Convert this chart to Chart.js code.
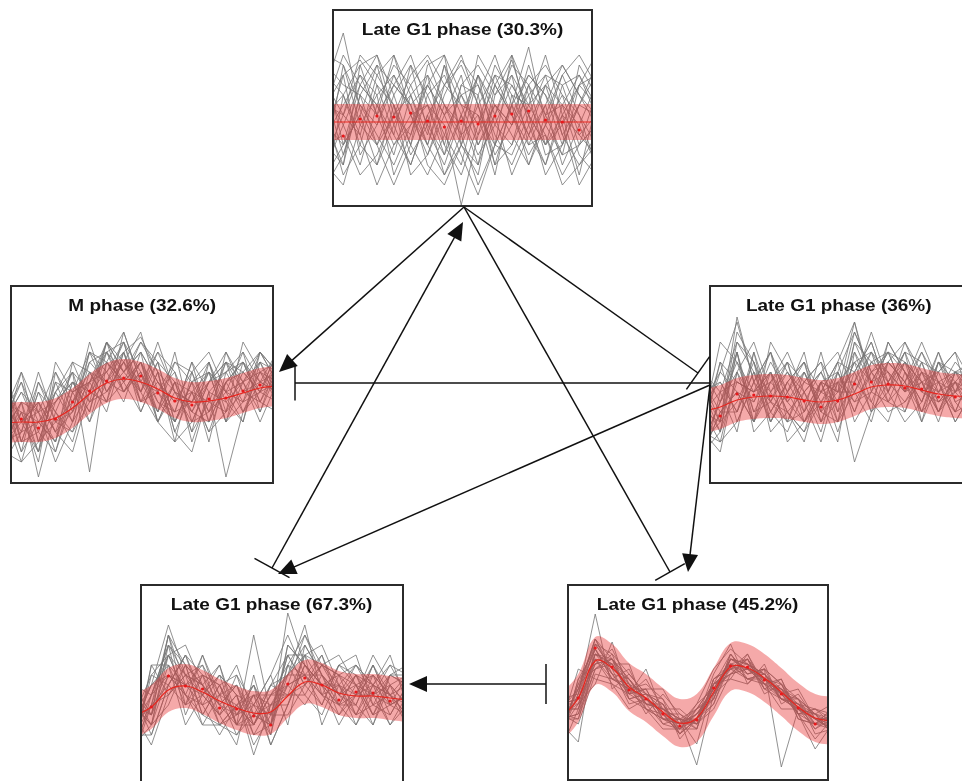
<!DOCTYPE html>
<html lang="en">
<head>
<meta charset="UTF-8">
<title>Cell cycle phase clusters</title>
<script src="https://cdn.jsdelivr.net/npm/chart.js"></script>
<style>
  body {
    margin: 0;
    width: 962px;
    height: 781px;
    overflow: hidden;
    background: #fff;
    position: relative;
    font-family: "Liberation Sans", Arial, sans-serif;
  }
  .panel {
    position: absolute;
    box-sizing: border-box;
    border: 2px solid #2b2b2b;
    background: #fff;
    overflow: hidden;
  }
  .panel canvas { position: absolute; left: 0; top: 0; }
  .ttl {
    position: absolute;
    left: 0; right: 0; top: 10px;
    text-align: center;
    font-weight: bold;
    font-size: 16.5px;
    line-height: 16px;
    color: #111;
    white-space: nowrap;
  }
  .ttl span { display: inline-block; transform: scaleX(1.15); }
  #links { position: absolute; left: 0; top: 0; }
</style>
</head>
<body>
  <div class="panel" id="pA" style="left:332px;top:9px;width:261px;height:198px"><canvas></canvas><div class="ttl"><span>Late G1 phase (30.3%)</span></div></div>
  <div class="panel" id="pB" style="left:10px;top:285px;width:264px;height:199px"><canvas></canvas><div class="ttl"><span>M phase (32.6%)</span></div></div>
  <div class="panel" id="pC" style="left:709px;top:285px;width:260px;height:199px"><canvas></canvas><div class="ttl"><span>Late G1 phase (36%)</span></div></div>
  <div class="panel" id="pD" style="left:140px;top:584px;width:264px;height:203px"><canvas></canvas><div class="ttl"><span>Late G1 phase (67.3%)</span></div></div>
  <div class="panel" id="pE" style="left:567px;top:584px;width:262px;height:197px"><canvas></canvas><div class="ttl"><span>Late G1 phase (45.2%)</span></div></div>
  <svg id="links" width="962" height="781"></svg>

<script>
// time points (profile samples), mean dots only at the inner ones
const timePoints = [0, 1, 2, 3, 4, 5, 6, 7, 8, 9, 10, 11, 12, 13, 14, 15, 16];
const meanPoints = [1, 2, 3, 4, 5, 6, 7, 8, 9, 10, 11, 12, 13, 14, 15];

// --- Late G1 phase (30.3%) ---
const grayA = [
  [120,172,95,60,110,140,75,40,90,130,60,100,158,80,50,120,100],
  [60,40,140,150,90,70,120,150,60,30,110,145,90,60,120,70,90],
  [100,130,145,120,70,40,90,120,140,100,50,80,110,130,70,40,60],
  [40,20,80,110,130,90,60,30,70,150,120,90,60,100,140,110,80],
  [130,110,60,40,80,120,145,100,60,40,90,130,100,70,30,60,110],
  [80,60,120,150,110,60,30,70,110,80,140,110,70,40,90,120,130],
  [20,50,100,70,40,80,120,90,50,10,60,100,130,110,80,20,50],
  [150,140,100,80,130,100,60,110,145,120,70,40,80,120,100,130,90],
  [90,30,60,120,100,50,80,140,100,60,100,70,40,90,130,90,40],
  [70,100,130,90,50,110,130,60,30,80,120,150,110,50,60,100,140],
  [110,80,40,100,140,120,80,50,120,110,40,60,120,140,110,60,80],
  [50,90,150,130,100,30,50,100,80,130,90,30,70,100,40,80,120],
  [140,120,110,60,20,60,110,130,90,50,80,120,90,30,60,140,110],
  [30,60,90,140,120,100,40,20,60,100,130,90,50,80,110,90,60],
  [100,150,120,100,60,90,100,80,0,70,100,80,140,90,100,50,30],
  [60,70,30,50,90,130,150,120,100,90,30,110,100,120,70,100,90],
  [120,90,70,20,60,80,100,60,120,140,110,130,60,70,20,40,70],
  [80,40,110,90,150,110,70,140,70,20,60,50,90,130,120,130,100],
  [90,110,70,130,150,90,50,90,130,60,90,140,120,60,90,70,50],
  [40,80,120,100,70,140,110,70,40,110,150,100,40,80,130,150,120],
  [130,60,90,40,100,60,140,150,110,120,80,60,100,150,90,30,100],
  [70,130,50,80,120,150,100,50,90,40,120,90,130,110,60,100,130],
  [100,90,130,110,30,70,130,100,70,90,60,150,80,40,100,80,40],
  [50,140,80,60,90,110,60,120,150,100,40,100,70,120,140,110,90],
  [110,50,110,140,80,40,90,30,60,130,100,80,120,90,50,60,80],
  [20,110,140,90,120,100,120,90,110,70,130,120,90,60,80,120,150]
];
const curveA = [83,83,83,83,83,83,83,83,83,83,83,83,83,83,83,83,83];
const upperA = [101,101,101,101,101,101,101,101,101,101,101,101,101,101,101,101,101];
const lowerA = [65,65,65,65,65,65,65,65,65,65,65,65,65,65,65,65,65];
const dotsA = [69,86,89,88,92,84,78,84,81,89,91,94,85,83,75];

// --- M phase (32.6%) ---
const grayB = [
  [70,100,40,90,60,130,110,140,90,120,60,100,70,120,110,90,130],
  [30,20,80,50,100,70,140,110,130,60,100,50,120,80,60,130,100],
  [90,60,30,80,110,90,80,130,145,110,50,90,110,60,100,110,80],
  [50,80,70,20,60,120,130,90,110,70,120,100,40,110,130,70,120],
  [110,40,90,70,40,100,120,150,100,130,90,60,100,130,90,120,110],
  [60,90,50,100,90,60,100,120,80,100,70,120,90,5,70,100,90],
  [20,50,100,60,80,110,80,100,120,90,110,70,60,100,120,80,70],
  [80,30,60,40,120,80,140,120,90,60,40,110,130,90,80,130,110],
  [40,70,20,110,70,140,90,110,140,120,100,50,80,120,100,60,100],
  [100,60,80,50,30,90,110,80,130,100,80,90,50,70,140,110,120],
  [50,110,70,80,100,70,130,140,110,80,60,100,110,90,60,120,90],
  [90,40,50,30,80,100,70,130,90,140,90,80,100,120,90,100,130],
  [30,80,5,70,50,110,100,90,120,70,130,60,70,100,110,90,80],
  [70,20,40,90,110,10,120,100,70,110,50,30,90,80,100,70,110],
  [60,100,60,40,90,130,90,120,100,90,70,80,120,60,80,110,100],
  [40,50,110,60,70,100,130,110,130,100,80,110,60,100,70,90,120],
  [80,70,30,100,60,90,140,90,110,60,100,70,100,110,120,100,90],
  [110,60,70,40,100,80,100,140,80,120,60,90,80,70,90,80,110],
  [60,90,70,110,80,120,100,130,70,110,90,70,110,90,130,100,110],
  [90,30,100,70,110,60,120,90,120,80,70,120,60,130,100,120,80],
  [40,60,80,30,90,100,140,110,90,130,110,40,90,110,80,90,130],
  [70,110,40,60,50,80,90,120,150,90,60,100,120,70,110,130,100],
  [20,70,60,90,120,110,80,150,100,70,100,90,50,100,120,80,120],
  [100,40,90,50,70,130,120,100,140,110,40,60,100,120,70,110,90],
  [50,80,30,120,90,100,110,130,80,90,120,110,70,90,100,130,110],
  [80,50,60,80,100,90,130,100,120,60,90,80,110,60,120,90,100]
];
const curveB = [59,60,60,64,74,88,99,103,100,93,84,80,81,84,89,94,96];
const upperB = [79,80,80,84,94,108,119,123,120,113,104,100,101,104,109,114,116];
const lowerB = [39,40,40,44,54,68,79,83,80,73,64,60,61,64,69,74,76];
const dotsB = [63,54,63,80,91,101,104,106,89,81,77,83,84,91,97];

// --- Late G1 phase (36%) ---
const grayC = [
  [60,110,160,100,130,90,110,70,120,160,100,130,110,80,120,90,100],
  [40,80,130,60,100,120,70,100,60,110,140,90,120,100,70,110,80],
  [90,60,150,120,80,60,100,120,90,130,80,120,140,110,90,70,110],
  [30,50,100,90,110,70,50,80,110,70,120,130,90,130,100,60,90],
  [80,100,70,130,60,100,120,60,80,150,110,80,100,70,110,130,70],
  [50,30,110,80,120,90,60,100,50,100,130,110,70,120,80,100,120],
  [100,70,90,60,90,110,80,40,100,120,70,140,110,90,130,80,60],
  [20,90,140,110,70,50,90,110,130,90,120,100,130,60,100,110,100],
  [70,40,60,100,130,80,110,70,60,140,100,70,80,110,70,90,130],
  [110,80,120,70,80,120,100,90,120,60,90,120,100,140,100,60,90],
  [40,60,80,120,50,70,40,100,90,110,140,90,60,80,120,100,70],
  [60,120,100,90,100,130,90,60,110,80,110,130,120,100,60,110,110],
  [90,50,130,50,70,100,70,130,70,100,80,60,110,70,90,120,100],
  [30,70,70,110,90,60,110,80,40,130,100,110,90,120,110,70,80],
  [80,110,90,80,110,40,60,90,100,20,70,100,130,90,80,100,60],
  [50,40,110,60,140,110,80,110,80,120,130,80,70,110,100,90,110],
  [100,60,165,100,60,90,120,70,90,90,60,120,100,60,120,80,90],
  [70,90,50,130,80,70,50,100,110,150,110,90,140,100,70,110,100],
  [60,140,120,90,110,70,90,110,70,140,120,110,90,100,90,110,90],
  [90,100,70,110,60,90,130,60,100,80,90,140,110,80,130,90,120],
  [40,80,110,140,90,120,60,90,120,110,70,90,130,120,70,100,80],
  [70,60,130,70,100,80,100,120,60,90,130,100,80,100,110,130,100],
  [110,90,100,90,130,60,70,100,90,160,90,80,120,90,100,70,110],
  [50,120,60,100,80,110,90,50,110,70,110,120,100,130,90,100,90],
  [80,50,140,120,70,100,120,90,80,120,100,130,90,110,80,90,70],
  [30,70,90,60,110,80,60,80,100,100,150,100,120,70,120,110,120]
];
const curveC = [71,75,82,85,86,85,82,80,82,88,95,97,96,92,88,86,85];
const upperC = [93,97,104,107,108,107,104,102,104,110,117,119,118,114,110,108,107];
const lowerC = [49,53,60,63,64,63,60,58,60,66,73,75,74,70,66,64,63];
const dotsC = [66,88,87,86,85,81,75,81,98,100,98,94,93,85,85];

// --- Late G1 phase (67.3%) ---
const grayD = [
  [60,100,160,110,90,120,70,100,60,172,120,100,80,110,90,100,80],
  [40,60,130,140,100,70,90,50,80,100,150,120,110,70,100,120,90],
  [80,70,110,90,130,80,60,90,40,80,130,140,100,90,120,80,110],
  [30,90,140,120,70,100,110,60,90,120,110,80,120,130,80,70,100],
  [90,50,100,130,110,60,50,80,110,60,140,110,70,100,110,90,70],
  [50,80,150,80,90,110,90,40,70,130,100,130,90,80,60,110,120],
  [70,40,90,110,60,90,120,70,100,90,90,70,110,120,100,60,90],
  [100,70,120,100,120,70,40,110,50,140,120,100,60,90,130,100,60],
  [40,110,100,130,80,50,80,60,90,110,160,90,100,60,90,110,110],
  [60,90,140,70,110,100,60,150,70,70,100,120,130,100,70,80,90],
  [80,60,80,120,100,80,100,50,60,100,80,110,90,110,100,130,80],
  [30,80,130,90,60,60,70,80,110,150,110,90,70,90,110,70,100],
  [70,100,110,100,90,110,90,30,80,90,130,60,100,70,80,90,60],
  [50,50,100,80,130,90,50,70,60,120,90,120,110,100,60,100,110],
  [90,70,150,120,70,60,80,100,40,80,120,100,80,80,120,80,90],
  [60,80,90,110,100,120,60,60,100,110,140,110,90,120,90,60,80],
  [40,120,120,60,90,70,110,80,70,130,100,80,120,100,70,110,100],
  [80,60,110,100,110,80,70,90,90,100,110,130,80,60,100,90,70],
  [70,110,130,110,100,80,100,70,80,110,130,100,110,90,100,90,80],
  [50,90,110,90,80,110,60,90,60,140,120,90,80,110,80,110,100],
  [90,60,140,110,120,90,80,60,90,90,100,120,100,80,120,90,110],
  [40,80,100,130,90,70,90,80,50,120,150,110,90,100,90,80,90],
  [60,100,120,80,110,100,70,100,70,100,110,90,120,110,70,100,80],
  [80,70,150,100,80,90,100,60,100,130,130,120,90,70,110,90,100],
  [30,120,90,120,100,60,80,90,80,80,120,100,100,120,100,80,70],
  [100,90,130,90,70,100,60,70,60,110,110,110,80,90,90,120,110]
];
const curveD = [69,78,95,99,93,84,77,72,73,89,103,100,92,89,89,87,85];
const upperD = [91,100,117,121,115,106,99,94,95,111,125,122,114,111,111,109,107];
const lowerD = [47,56,73,77,71,62,55,50,51,67,81,78,70,67,67,65,63];
const dotsD = [78,109,99,96,77,76,69,60,101,107,100,85,93,92,84];

// --- Late G1 phase (45.2%) ---
const grayE = [
  [50,90,140,120,100,80,70,50,60,90,120,115,100,90,70,60,50],
  [70,70,125,105,85,90,60,60,55,95,105,120,95,80,80,55,65],
  [40,100,130,100,95,75,75,45,70,80,125,105,110,95,65,70,55],
  [60,60,110,125,80,70,65,65,50,100,115,100,105,85,75,50,60],
  [80,85,165,90,105,85,55,50,65,85,110,125,90,80,70,65,45],
  [50,75,120,115,90,95,80,40,60,75,120,110,95,100,60,55,70],
  [65,55,105,100,110,75,70,60,35,95,100,95,115,75,85,60,50],
  [45,95,135,110,75,80,60,55,75,110,130,115,100,90,65,40,60],
  [75,80,115,130,95,65,85,65,55,70,105,120,85,95,80,65,75],
  [55,110,100,95,85,110,65,45,60,90,115,105,110,12,70,55,50],
  [30,70,125,120,100,75,55,60,70,95,125,100,100,80,75,70,65],
  [70,90,140,105,80,85,75,50,50,100,110,115,90,90,65,30,55],
  [60,65,110,115,115,70,60,55,65,80,120,110,105,85,90,60,60],
  [50,85,130,100,90,90,90,60,14,85,100,125,95,70,70,65,45],
  [65,60,120,95,70,80,65,45,60,105,135,95,110,95,60,55,70],
  [40,100,115,120,95,70,50,50,75,90,105,110,100,85,80,45,50],
  [75,75,95,137,85,100,70,70,55,75,115,120,90,100,65,70,60],
  [55,37,135,125,105,85,80,55,60,95,110,100,105,80,70,60,55],
  [60,80,125,115,90,80,65,55,65,90,115,110,100,85,70,60,60],
  [55,90,130,105,100,75,70,60,55,85,120,115,105,90,75,55,55],
  [70,70,115,120,85,90,60,50,70,95,105,110,95,85,65,65,60],
  [45,85,140,110,95,85,75,45,60,80,125,105,110,80,75,60,50],
  [65,75,120,100,90,70,60,60,50,100,110,120,100,95,70,50,65],
  [50,95,110,120,80,85,70,55,70,85,115,100,95,90,80,65,55],
  [75,80,135,110,100,80,65,50,65,90,120,115,105,85,65,55,60],
  [60,65,125,115,85,75,70,60,60,95,110,110,100,80,75,65,50]
];
const curveE = [61,81,118,111,92,81,67,56,61,87,112,111,101,87,72,61,58];
const upperE = [85,105,142,135,116,105,91,80,85,111,136,135,125,111,96,85,82];
const lowerE = [37,57,94,87,68,57,43,32,37,63,88,87,77,63,48,37,34];
const dotsE = [81,131,112,89,80,65,53,59,91,113,112,99,85,71,55];

const panels = [
  { id: 'pA', gray: grayA, curve: curveA, upper: upperA, lower: lowerA, dots: dotsA },
  { id: 'pB', gray: grayB, curve: curveB, upper: upperB, lower: lowerB, dots: dotsB },
  { id: 'pC', gray: grayC, curve: curveC, upper: upperC, lower: lowerC, dots: dotsC },
  { id: 'pD', gray: grayD, curve: curveD, upper: upperD, lower: lowerD, dots: dotsD },
  { id: 'pE', gray: grayE, curve: curveE, upper: upperE, lower: lowerE, dots: dotsE }
];

function pairs(values, xs) {
  return values.map((v, i) => ({ x: xs[i], y: v }));
}

function makePanel(p) {
  const box = document.getElementById(p.id);
  const w = box.clientWidth, h = box.clientHeight;
  const canvas = box.querySelector('canvas');
  canvas.width = w;
  canvas.height = h;

  const datasets = [];
  // mean dots
  datasets.push({
    data: pairs(p.dots, meanPoints), showLine: false,
    pointRadius: 1.6, pointBackgroundColor: '#e8191c', pointBorderWidth: 0, order: 0
  });
  // smoothed mean
  datasets.push({
    data: pairs(p.curve, timePoints), borderColor: '#e8261f', borderWidth: 1.2,
    tension: 0.4, pointRadius: 0, order: 1, clip: false
  });
  // shaded band
  datasets.push({
    data: pairs(p.upper, timePoints), borderColor: 'rgba(0,0,0,0)', borderWidth: 0,
    tension: 0.4, pointRadius: 0, fill: '+1', backgroundColor: 'rgba(230,50,50,0.42)',
    order: 2, clip: false
  });
  datasets.push({
    data: pairs(p.lower, timePoints), borderColor: 'rgba(0,0,0,0)', borderWidth: 0,
    tension: 0.4, pointRadius: 0, fill: false, order: 2, clip: false
  });
  // individual profiles
  p.gray.forEach(g => datasets.push({
    data: pairs(g, timePoints), borderColor: 'rgba(118,118,118,0.8)', borderWidth: 1,
    pointRadius: 0, tension: 0, order: 3, clip: false
  }));

  new Chart(canvas, {
    type: 'line',
    data: { datasets },
    options: {
      responsive: false,
      animation: false,
      events: [],
      layout: { padding: 0, autoPadding: false },
      plugins: { legend: { display: false }, tooltip: { enabled: false } },
      scales: {
        x: { type: 'linear', display: false, min: 0.45, max: 15.7 },
        y: { display: false, min: 0, max: h }
      }
    }
  });
}

panels.forEach(makePanel);

// regulatory links between the clusters (page pixels)
const links = [
  { from: [464, 207], to: [279, 372], end: 'arrow' },
  { from: [272, 568], to: [463, 222], end: 'arrow', start: 'bar', bar: 40 },
  { from: [464, 207], to: [698, 373], end: 'bar', bar: 40 },
  { from: [464, 207], to: [670, 572], end: 'bar', bar: 34 },
  { from: [710, 383], to: [295, 383], end: 'bar', bar: 35 },
  { from: [710, 385], to: [278, 574], end: 'arrow' },
  { from: [710, 385], to: [688, 572], end: 'arrow' },
  { from: [546, 684], to: [409, 684], end: 'arrow', start: 'bar', bar: 40 }
];

const svg = document.getElementById('links');
const NS = 'http://www.w3.org/2000/svg';
function add(tag, attrs) {
  const e = document.createElementNS(NS, tag);
  for (const k in attrs) e.setAttribute(k, attrs[k]);
  svg.appendChild(e);
}
function seg(x1, y1, x2, y2) {
  add('line', { x1, y1, x2, y2, stroke: '#111', 'stroke-width': 1.5 });
}

links.forEach(l => {
  const [x1, y1] = l.from, [x2, y2] = l.to;
  const len = Math.hypot(x2 - x1, y2 - y1);
  const ux = (x2 - x1) / len, uy = (y2 - y1) / len;
  const px = -uy, py = ux;
  let ex = x2, ey = y2;
  if (l.end === 'arrow') {
    const hl = 18, hw = 8;
    const bx = x2 - ux * hl, by = y2 - uy * hl;
    add('polygon', {
      points: `${x2},${y2} ${bx + px * hw},${by + py * hw} ${bx - px * hw},${by - py * hw}`,
      fill: '#111'
    });
    ex = x2 - ux * 14; ey = y2 - uy * 14;
  } else if (l.end === 'bar') {
    seg(x2 + px * l.bar / 2, y2 + py * l.bar / 2, x2 - px * l.bar / 2, y2 - py * l.bar / 2);
  }
  if (l.start === 'bar') {
    seg(x1 + px * l.bar / 2, y1 + py * l.bar / 2, x1 - px * l.bar / 2, y1 - py * l.bar / 2);
  }
  seg(x1, y1, ex, ey);
});
</script>
</body>
</html>
